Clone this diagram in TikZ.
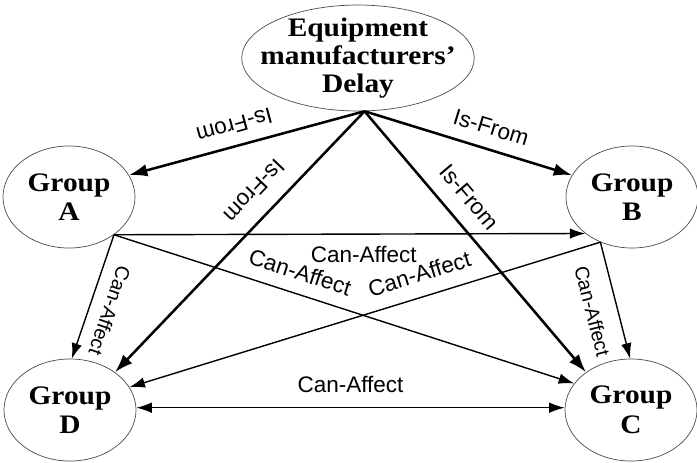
\documentclass[tikz,border=0pt]{standalone}
\usepackage{fontspec}
\setmainfont{Liberation Serif}
\setsansfont{Liberation Sans}
\newfontfamily\grpfont[FakeStretch=1.1]{Liberation Serif}
\usepackage{tikz}
\usetikzlibrary{positioning,shapes,arrows.meta}
\tikzstyle{grp}=[%
      ellipse, draw=black!70, line width=0.5pt, fill=white,
      minimum width=3.3cm, minimum height=2.55cm, inner sep=0pt, align=center,
      font=\grpfont\fontsize{19}{21}\selectfont\bfseries
]
\tikzstyle{src}=[%
      ellipse, draw=black!70, line width=0.5pt, fill=white,
      inner xsep=-11pt, inner ysep=-2pt, align=center,
      font=\grpfont\fontsize{19}{20}\selectfont\bfseries
]
\tikzstyle{isf}=[%
      line width=1.8pt, -{Latex[length=13pt,width=9pt]}
]
\tikzstyle{can}=[%
      line width=1pt, -{Latex[length=11pt,width=7.5pt]}
]
\tikzstyle{lbl}=[%
      font=\sffamily\fontsize{16}{16}\selectfont, inner sep=2pt
]
\tikzstyle{lblv}=[%
      font=\sffamily\fontsize{14}{14}\selectfont, inner sep=2pt
]

\begin{document}
\begin{tikzpicture}[x=0.025cm, y=-0.025cm]
    \useasboundingbox (0,0) rectangle (697,462);

    \node[src] (delay) at (358,58) {Equipment\\manufacturers’\\Delay};
    \node[grp] (A) at (69,197)  {Group\\A};
    \node[grp] (B) at (632,197) {Group\\B};
    \node[grp] (D) at (70,410)  {Group\\D};
    \node[grp] (C) at (631,410) {Group\\C};

    % is-from links
    \path (delay.-83) edge[isf] node[lbl, sloped, allow upside down, pos=0.53, below=6pt] {Is-From} (A.20)
          (delay.-83) edge[isf] node[lbl, sloped, pos=0.58, above=7pt] {Is-From} (B.160)
          (delay.-83) edge[isf] node[lbl, sloped, allow upside down, pos=0.37, below=9pt] {Is-From} (D.40)
          (delay.-83) edge[isf] node[lbl, sloped, pos=0.39, above=9pt] {Is-From} (C.140)
    ;

    % can-affect links
    \path (A.-40) edge[can] node[lbl, pos=0.53, below=6pt] {Can-Affect} (B.218)
          (A.-40) edge[can] node[lbl, sloped, pos=0.39, above=7pt] {Can-Affect} (C.155)
          (A.-40) edge[can] node[lblv, sloped, allow upside down, pos=0.56, above=7pt] {Can-Affect} (D.88)
          (B.235) edge[can] node[lbl, sloped, pos=0.37, above=8pt] {Can-Affect} (D.21)
          (B.235) edge[can] node[lblv, sloped, pos=0.54, below=10pt] {Can-Affect} (C.91)
          (D.2) edge[can, {Latex[length=11pt,width=7.5pt]}-{Latex[length=11pt,width=7.5pt]}] node[lbl, pos=0.5, above=8pt] {Can-Affect} (C.178)
    ;
\end{tikzpicture}
\end{document}
